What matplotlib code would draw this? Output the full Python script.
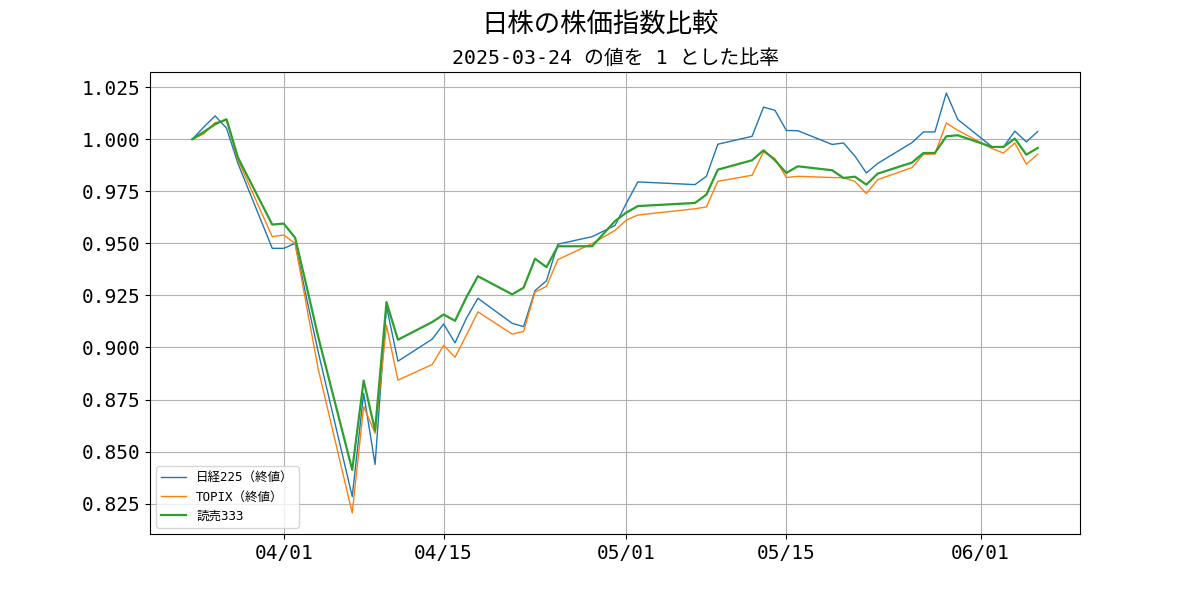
import pandas as pd
import matplotlib
matplotlib.use('Agg')
import matplotlib.pyplot as plt
import matplotlib.dates as mdates

plt.rcParams['font.family'] = ['DejaVu Sans Mono', 'Noto Sans CJK JP']

# 営業日
dates = pd.to_datetime([
    '2025-03-24', '2025-03-25', '2025-03-26', '2025-03-27', '2025-03-28',
    '2025-03-31', '2025-04-01', '2025-04-02', '2025-04-03', '2025-04-04',
    '2025-04-07', '2025-04-08', '2025-04-09', '2025-04-10', '2025-04-11',
    '2025-04-14', '2025-04-15', '2025-04-16', '2025-04-17', '2025-04-18',
    '2025-04-21', '2025-04-22', '2025-04-23', '2025-04-24', '2025-04-25',
    '2025-04-28', '2025-04-30', '2025-05-01', '2025-05-02', '2025-05-07',
    '2025-05-08', '2025-05-09', '2025-05-12', '2025-05-13', '2025-05-14',
    '2025-05-15', '2025-05-16', '2025-05-19', '2025-05-20', '2025-05-21',
    '2025-05-22', '2025-05-23', '2025-05-26', '2025-05-27', '2025-05-28',
    '2025-05-29', '2025-05-30', '2025-06-02', '2025-06-03', '2025-06-04',
    '2025-06-05', '2025-06-06',
])

# 2025-03-24 を 1 とした比率
nikkei = [
    1.000, 1.0058, 1.0112, 1.0053, 0.9883, 0.9476, 0.9476, 0.9500, 0.9238, 0.8984,
    0.8284, 0.8780, 0.8438, 0.9198, 0.8934, 0.9040, 0.9113, 0.9022, 0.9141, 0.9236,
    0.9116, 0.9100, 0.9273, 0.9320, 0.9496, 0.9532, 0.9586, 0.9693, 0.9795, 0.9782,
    0.9822, 0.9976, 1.0014, 1.0154, 1.0139, 1.0042, 1.0041, 0.9975, 0.9982, 0.9919,
    0.9838, 0.9884, 0.9984, 1.0035, 1.0035, 1.0222, 1.0095, 0.9964, 0.9962, 1.0039,
    0.9987, 1.0037,
]
topix = [
    1.000, 1.0025, 1.0080, 1.0091, 0.9900, 0.9532, 0.9540, 0.9500, 0.9200, 0.8902,
    0.8205, 0.8716, 0.8588, 0.9106, 0.8843, 0.8918, 0.9010, 0.8953, 0.9060, 0.9171,
    0.9064, 0.9077, 0.9266, 0.9293, 0.9422, 0.9499, 0.9562, 0.9612, 0.9636, 0.9666,
    0.9675, 0.9798, 0.9827, 0.9939, 0.9907, 0.9816, 0.9822, 0.9816, 0.9815, 0.9797,
    0.9739, 0.9806, 0.9864, 0.9928, 0.9929, 1.0078, 1.0043, 0.9955, 0.9934, 0.9982,
    0.9880, 0.9928,
]
yomiuri = [
    1.000, 1.0035, 1.0072, 1.0096, 0.9912, 0.9590, 0.9595, 0.9527, 0.9295, 0.9056,
    0.8412, 0.8841, 0.8601, 0.9218, 0.9037, 0.9122, 0.9158, 0.9128, 0.9242, 0.9342,
    0.9255, 0.9287, 0.9426, 0.9386, 0.9486, 0.9486, 0.9607, 0.9648, 0.9679, 0.9694,
    0.9734, 0.9854, 0.9899, 0.9947, 0.9899, 0.9838, 0.9870, 0.9851, 0.9814, 0.9820,
    0.9782, 0.9835, 0.9888, 0.9934, 0.9934, 1.0014, 1.0019, 0.9963, 0.9963, 1.0003,
    0.9926, 0.9958,
]

fig, ax = plt.subplots(figsize=(12, 6), dpi=100)
fig.subplots_adjust(left=0.125, right=0.9, top=0.88, bottom=0.11)

ax.plot(dates, nikkei, color='C0', linewidth=1, label='日経225（終値）')
ax.plot(dates, topix, color='C1', linewidth=1, label='TOPIX（終値）')
ax.plot(dates, yomiuri, color='C2', linewidth=1.6, label='読売333')

ax.xaxis.set_major_locator(mdates.DayLocator(bymonthday=[1, 15]))
ax.xaxis.set_major_formatter(mdates.DateFormatter('%m/%d'))
ax.yaxis.set_major_formatter(matplotlib.ticker.FormatStrFormatter('%.3f'))
ax.tick_params(labelsize=14)
ax.grid(True)

ax.legend(loc='lower left', fontsize=9)
ax.set_title('2025-03-24 の値を 1 とした比率', fontsize=14.3)
fig.suptitle('日株の株価指数比較', fontsize=19)

fig.savefig('out.png')
